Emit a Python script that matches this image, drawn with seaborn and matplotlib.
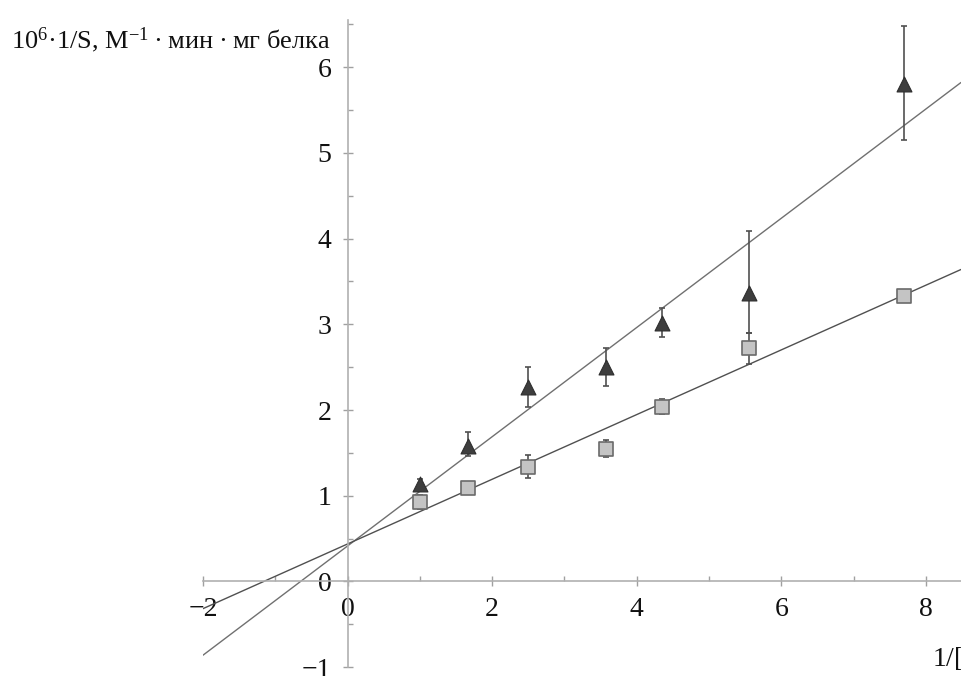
import numpy as np
import seaborn as sns
import matplotlib.pyplot as plt
import pandas as pd
from matplotlib.ticker import MultipleLocator

sns.set_style('white')
plt.rcParams['font.family'] = ['Liberation Serif', 'DejaVu Serif']
plt.rcParams['mathtext.fontset'] = 'custom'
plt.rcParams['mathtext.rm'] = 'Liberation Serif'
plt.rcParams['mathtext.it'] = 'Liberation Serif:italic'

# 1/[S] values
inv_s = [1.0, 1.667, 2.5, 3.571, 4.348, 5.556, 7.692]

# squares
sq_y = [0.93, 1.09, 1.34, 1.55, 2.04, 2.72, 3.33]
sq_err_lo = [0.08, 0.05, 0.13, 0.10, 0.09, 0.18, 0.05]
sq_err_hi = [0.08, 0.05, 0.13, 0.10, 0.09, 0.18, 0.05]

# triangles
tr_y = [1.14, 1.58, 2.27, 2.50, 3.02, 3.37, 5.80]
tr_err_lo = [0.06, 0.12, 0.23, 0.22, 0.17, 0.47, 0.65]
tr_err_hi = [0.06, 0.16, 0.23, 0.22, 0.17, 0.72, 0.68]

df_sq = pd.DataFrame({'x': inv_s, 'y': sq_y})
df_tr = pd.DataFrame({'x': inv_s, 'y': tr_y})

fig = plt.figure(figsize=(9.61, 6.76), dpi=100)
ax = fig.add_axes([0.2112, 0.0067, 0.7888, 0.9638])
ax.set_xlim(-2.0, 8.484)
ax.set_ylim(-1.05, 6.55)

# regression lines
sns.regplot(data=df_tr, x='x', y='y', ax=ax, scatter=False, ci=None, truncate=False,
            line_kws={'color': '#707070', 'lw': 1.0})
sns.regplot(data=df_sq, x='x', y='y', ax=ax, scatter=False, ci=None, truncate=False,
            line_kws={'color': '#505050', 'lw': 1.0})

# error bars
ax.errorbar(inv_s, sq_y, yerr=[sq_err_lo, sq_err_hi], fmt='none', ecolor='#505050',
            elinewidth=1.2, capsize=2.5, capthick=1.2, zorder=3)
ax.errorbar(inv_s, tr_y, yerr=[tr_err_lo, tr_err_hi], fmt='none', ecolor='#505050',
            elinewidth=1.2, capsize=2.5, capthick=1.2, zorder=3)

# markers
sns.scatterplot(data=df_sq, x='x', y='y', ax=ax, marker='s', s=90, color='#c4c4c4',
                edgecolor='#6a6a6a', linewidth=1.2, zorder=4, legend=False)
sns.scatterplot(data=df_tr, x='x', y='y', ax=ax, marker='^', s=115, color='#3e3e3e',
                edgecolor='#2e2e2e', linewidth=0.8, zorder=4, legend=False)

ax.set_xlim(-2.0, 8.484)
ax.set_ylim(-1.05, 6.55)

# axes through the origin
for side in ['top', 'right']:
    ax.spines[side].set_visible(False)
ax.spines['left'].set_position(('data', 0))
ax.spines['bottom'].set_position(('data', 0))
ax.spines['left'].set_bounds(-1.0, 6.55)
for side in ['left', 'bottom']:
    ax.spines[side].set_color('#b0b0b0')
    ax.spines[side].set_linewidth(1.2)

ax.xaxis.set_major_locator(MultipleLocator(2))
ax.xaxis.set_minor_locator(MultipleLocator(1))
ax.yaxis.set_major_locator(MultipleLocator(1))
ax.yaxis.set_minor_locator(MultipleLocator(0.5))
ax.tick_params(which='major', direction='inout', length=7, width=1, color='#a0a0a0',
               labelsize=20, labelcolor='#111111')
ax.tick_params(axis='x', which='major', pad=8)
ax.tick_params(axis='y', which='major', pad=8)
ax.tick_params(which='minor', direction='in', length=3.6, width=1, color='#a0a0a0')
ax.xaxis.set_ticks_position('bottom')
ax.yaxis.set_ticks_position('left')
ax.set_xlabel('')
ax.set_ylabel('')
ax.set_xticks([-2, 0, 2, 4, 6, 8])
ax.set_xticklabels(['\u22122', '0', '2', '4', '6', '8'])
ax.set_yticks([-1, 0, 1, 2, 3, 4, 5, 6])
ax.set_yticklabels(['\u22121', '0', '1', '2', '3', '4', '5', '6'])

fig.text(0.011, 0.929, '$10^6$·1/S, M$^{-1}$\u2009·\u2009мин\u2009·\u2009мг белка',
         fontsize=19, ha='left', va='baseline', color='#111111')
fig.text(0.970, 0.016, r'1/[S], мМ$^{-1}$', fontsize=20, ha='left', va='baseline',
         color='#111111')

fig.savefig('out.png', dpi=100)
